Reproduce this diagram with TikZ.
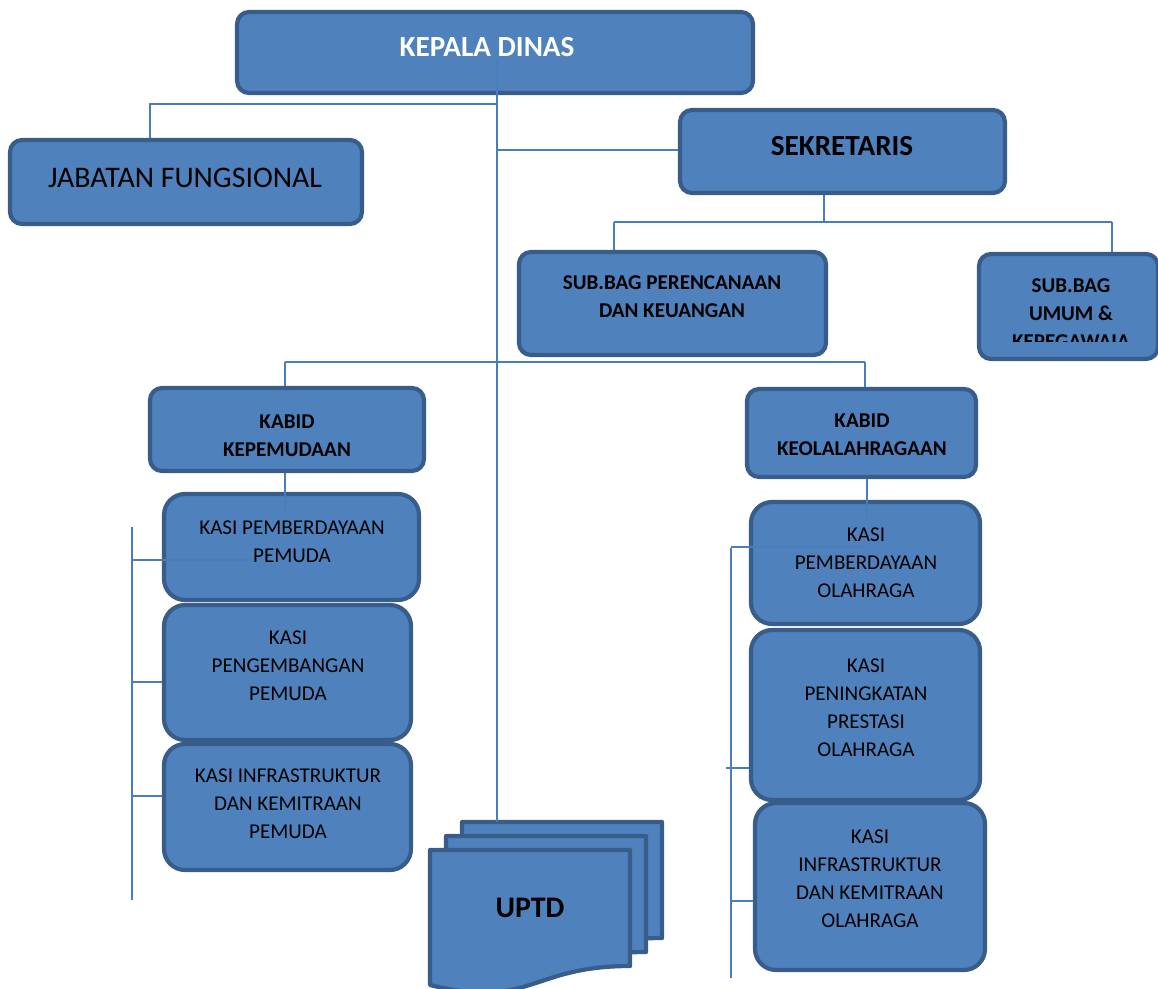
\documentclass[tikz,border=0pt]{standalone}
\usepackage{fontspec}
\setmainfont{Carlito}
\usetikzlibrary{calc}
\definecolor{boxfill}{HTML}{4F81BD}
\definecolor{boxline}{HTML}{385D8A}
\definecolor{conncol}{HTML}{4A7EBB}
\tikzset{
  box/.style={draw=boxline, fill=boxfill, line width=2.4pt, rounded corners=0.24cm, inner sep=0pt},
  kasibox/.style={box, rounded corners=0.42cm},
  conn/.style={draw=conncol, line width=1.1pt},
  txt/.style={align=center, inner sep=0pt, text=black},
  hd/.style={txt, font=\bfseries\fontsize{16.6}{19}\selectfont},
  jf/.style={txt, font=\fontsize{17}{20}\selectfont},
  sub/.style={txt, font=\bfseries\fontsize{12}{15.9}\selectfont},
  ks/.style={txt, font=\fontsize{12}{15.9}\selectfont},
  page/.style={draw=boxline, fill=boxfill, line width=2.4pt, line join=round},
}
\begin{document}
\begin{tikzpicture}[x=0.02cm,y=-0.02cm]
\useasboundingbox (0,0) rectangle (1158,989);

% ---------- boxes ----------
\node[box, minimum width=10.32cm, minimum height=1.62cm] (kd) at (495,52.5) {};
\node[hd, text=white] (kdt) at (487,47) {KEPALA DINAS};

\node[box, minimum width=7.04cm, minimum height=1.68cm] (jfb) at (186,182) {};
\node[jf] (jft) at (185,178) {JABATAN FUNGSIONAL};

\node[box, minimum width=6.5cm, minimum height=1.66cm] (sek) at (842.5,151.5) {};
\node[hd] (sekt) at (842,146) {SEKRETARIS};

\node[box, minimum width=6.14cm, minimum height=2.06cm] (sbp) at (672.5,303.5) {};
\node[sub] (sbpt) at (672,297) {SUB.BAG PERENCANAAN\\DAN KEUANGAN};

\node[box, minimum width=3.58cm, minimum height=2.1cm] (sbu) at (1068.5,306.5) {};
\begin{scope}
  \clip (979,254) rectangle (1158,342);
  \node[sub, anchor=north] (sbut) at (1071,278) {SUB.BAG\\UMUM \&\\KEPEGAWAIA\\N};
\end{scope}

\node[box, minimum width=5.48cm, minimum height=1.66cm] (kbp) at (287,429.5) {};
\node[sub] (kbpt) at (287,436) {KABID\\KEPEMUDAAN};

\node[box, minimum width=4.58cm, minimum height=1.76cm] (kbo) at (861.5,433) {};
\node[sub] (kbot) at (862,435) {KABID\\KEOLALAHRAGAAN};

\node[kasibox, minimum width=5.1cm, minimum height=2.12cm] (k1) at (291.5,547) {};
\node[ks] (k1t) at (292,542) {KASI PEMBERDAYAAN\\PEMUDA};

\node[kasibox, minimum width=4.94cm, minimum height=2.7cm] (k2) at (287.5,672.5) {};
\node[ks] (k2t) at (288,666) {KASI\\PENGEMBANGAN\\PEMUDA};

\node[kasibox, minimum width=4.94cm, minimum height=2.52cm] (k3) at (287.5,807) {};
\node[ks] (k3t) at (288,804) {KASI INFRASTRUKTUR\\DAN KEMITRAAN\\PEMUDA};

\node[kasibox, minimum width=4.58cm, minimum height=2.44cm] (k4) at (865.5,563) {};
\node[ks] (k4t) at (866,563) {KASI\\PEMBERDAYAAN\\OLAHRAGA};

\node[kasibox, minimum width=4.58cm, minimum height=3.4cm] (k5) at (865.5,715) {};
\node[ks] (k5t) at (866,708) {KASI\\PENINGKATAN\\PRESTASI\\OLAHRAGA};

\node[kasibox, minimum width=4.6cm, minimum height=3.34cm] (k6) at (870,886.5) {};
\node[ks] (k6t) at (870,879) {KASI\\INFRASTRUKTUR\\DAN KEMITRAAN\\OLAHRAGA};

% ---------- UPTD (multi-document) ----------
\foreach \dx/\dy in {32/-28, 16/-14, 0/0}{
  \begin{scope}[shift={(\dx,\dy)}]
    \path[page] (430,850) -- (630,850) -- (630,966)
      .. controls (530,966) and (530,1010) .. (430,985) -- cycle;
  \end{scope}
}
\coordinate (uptop) at (497,822);
\node[hd, font=\bfseries\fontsize{17}{20}\selectfont] (uptd) at (530,908) {UPTD};

% ---------- connectors ----------
\coordinate (kdin) at (497,59);
\coordinate (jfj) at (150,104);
\coordinate (sekj) at (497,150);
\coordinate (sbj) at (824,222);
\coordinate (kbj) at (497,362);

% main spine
\draw[conn] (kdin) -- (uptop);
% jabatan fungsional
\draw[conn] (jfj -| kdin) -- (jfj) -- (jfj |- jfb.north);
% sekretaris
\draw[conn] (sekj) -- (sekj -| sek.west);
% sub bag
\draw[conn] (sek.south -| sbj) -- (sbj);
\draw[conn] (sbj -| 614,0) -- (sbj -| 1112,0);
\draw[conn] (sbj -| 614,0) -- (sbp.north -| 614,0);
\draw[conn] (sbj -| 1112,0) -- (sbu.north -| 1112,0);
% kabid
\draw[conn] (kbj -| 285,0) -- (kbj -| 865,0);
\draw[conn] (kbj -| 285,0) -- (kbp.north -| 285,0);
\draw[conn] (kbj -| 865,0) -- (kbo.north -| 865,0);

% left kasi
\coordinate (kpd) at (285,512);
\draw[conn] (kbp.south -| kpd) -- (kpd);
\coordinate (lbt) at (132,527);
\coordinate (lbb) at (132,900);
\coordinate (lb1) at (253,560);
\draw[conn] (lbt) -- (lbb);
\draw[conn] (lbt |- lb1) -- (lb1);
\draw[conn] (lbt |- 0,682) -- (k2.west |- 0,682);
\draw[conn] (lbt |- 0,796) -- (k3.west |- 0,796);

% right kasi
\coordinate (kod) at (867,518);
\draw[conn] (kbo.south -| kod) -- (kod);
\coordinate (rbt) at (731,548);
\coordinate (rbb) at (731,978);
\coordinate (rb1) at (867,547);
\draw[conn] (rbt) -- (rbb);
\draw[conn] (rbt |- rb1) -- (rb1);
\draw[conn] (726,768) -- (k5.west |- 0,768);
\draw[conn] (rbt |- 0,901) -- (k6.west |- 0,901);
\end{tikzpicture}
\end{document}
